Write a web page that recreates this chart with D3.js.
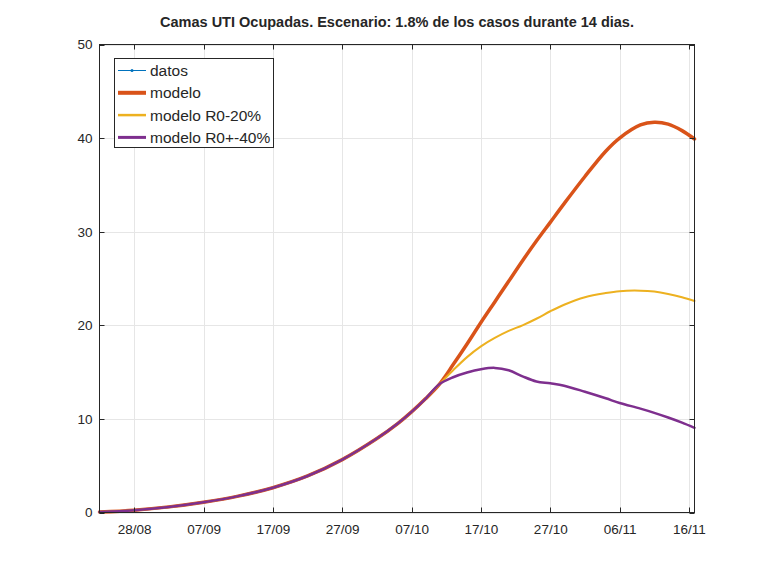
<!DOCTYPE html>
<html>
<head>
<meta charset="utf-8">
<script src="https://cdn.jsdelivr.net/npm/d3@7"></script>
<style>
  html, body { margin: 0; padding: 0; background: #fff; }
  svg { display: block; }
  text { font-family: "Liberation Sans", Arial, Helvetica, sans-serif; fill: #262626; }
</style>
</head>
<body>
<svg id="chart" width="768" height="576"></svg>
<script>
// ---------------- DATA ----------------
const fechaInicio = "2020-08-23";
// days since start date
const dias = [0, 5, 10, 15, 20, 25, 30, 35, 40, 43, 45, 47, 49, 51, 53, 55, 57, 59, 61, 63, 65, 67, 70, 73, 75, 78, 80, 82, 84, 85.8];
const modelo = [0.05, 0.25, 0.6, 1.1, 1.75, 2.65, 3.9, 5.65, 7.9, 9.5, 10.75, 12.15, 13.7,
  15.8, 18.0, 20.3, 22.5, 24.7, 26.9, 29.0, 31.0, 33.0, 35.9, 38.6, 40.0, 41.4, 41.7, 41.5, 40.8, 39.9];
const modeloR0m20 = [0.05, 0.25, 0.6, 1.1, 1.75, 2.65, 3.9, 5.65, 7.9, 9.5, 10.75, 12.15, 13.7,
  15.2, 16.6, 17.75, 18.65, 19.4, 20.0, 20.7, 21.5, 22.2, 23.0, 23.45, 23.65, 23.7, 23.6, 23.35, 23.0, 22.6];
const modeloR0m40 = [0.05, 0.25, 0.6, 1.1, 1.75, 2.65, 3.9, 5.65, 7.9, 9.5, 10.75, 12.15, 13.7,
  14.45, 14.95, 15.3, 15.45, 15.2, 14.55, 14.0, 13.8, 13.55, 12.9, 12.2, 11.7, 11.1, 10.65, 10.15, 9.6, 9.05];
const xTickLabels = ["28/08", "07/09", "17/09", "27/09", "07/10", "17/10", "27/10", "06/11", "16/11"];
const yTicks = [0, 10, 20, 30, 40, 50];
const seriesNames = ["datos", "modelo", "modelo R0-20%", "modelo R0+-40%"];
const seriesColors = ["#0072BD", "#D95319", "#EDB120", "#7E2F8E"];
const seriesWidths = [1, 3.5, 2, 2.5];
const title = "Camas UTI Ocupadas. Escenario: 1.8% de los casos durante 14 dias.";

// ---------------- CHART ----------------
const svg = d3.select("#chart");
const m = { left: 99.5, right: 694.5, top: 44.5, bottom: 512.5 };
const parseDate = d3.utcParse("%Y-%m-%d");
const t0 = parseDate(fechaInicio);
const dayToDate = d => new Date(t0.getTime() + d * 86400000);

const x = d3.scaleUtc()
  .domain([dayToDate(dias[0]), dayToDate(dias[dias.length - 1])])
  .range([m.left, m.right]);
const y = d3.scaleLinear().domain([0, 50]).range([m.bottom, m.top]);

const tickDates = xTickLabels.map(s => {
  const [dd, mm] = s.split("/").map(Number);
  return new Date(Date.UTC(2020, mm - 1, dd));
});

// grid
const grid = svg.append("g").attr("stroke", "#e6e6e6").attr("stroke-width", 1);
tickDates.forEach(d => {
  const px = Math.round(x(d)) + 0.5;
  grid.append("line").attr("x1", px).attr("x2", px).attr("y1", m.top).attr("y2", m.bottom);
});
yTicks.forEach(v => {
  const py = Math.round(y(v)) + 0.5;
  grid.append("line").attr("x1", m.left).attr("x2", m.right).attr("y1", py).attr("y2", py);
});

// axes (bottom / left with labels)
const xAxis = d3.axisBottom(x).tickValues(tickDates).tickSize(0).tickPadding(12)
  .tickFormat((d, i) => xTickLabels[i]);
const gx = svg.append("g").attr("transform", `translate(0,${m.bottom})`).call(xAxis);
gx.select(".domain").remove();
gx.selectAll("text").attr("font-size", "13.5px").style("font-family", "'Liberation Sans', Arial, sans-serif").attr("fill", "#262626");

const yAxis = d3.axisLeft(y).tickValues(yTicks).tickSize(0).tickPadding(7);
const gy = svg.append("g").attr("transform", `translate(${m.left},0)`).call(yAxis);
gy.select(".domain").remove();
gy.selectAll("text").attr("font-size", "13.5px").style("font-family", "'Liberation Sans', Arial, sans-serif").attr("fill", "#262626");

// lines
const lineGen = vals => d3.line()
  .x((d, i) => x(dayToDate(dias[i])))
  .y(d => y(d))
  .curve(d3.curveCatmullRom.alpha(0.5))(vals);

const plotSeries = [null, modelo, modeloR0m20, modeloR0m40];
plotSeries.forEach((vals, k) => {
  if (!vals) return;
  svg.append("path")
    .attr("d", lineGen(vals))
    .attr("fill", "none")
    .attr("stroke", seriesColors[k])
    .attr("stroke-width", seriesWidths[k])
    .attr("stroke-linejoin", "round")
    .attr("stroke-linecap", "round");
});

// box + inner ticks
const axc = "#262626";
const box = svg.append("g").attr("stroke", axc).attr("stroke-width", 1).attr("fill", "none");
box.append("rect").attr("x", m.left).attr("y", m.top).attr("width", m.right - m.left).attr("height", m.bottom - m.top);
const tl = 5;
tickDates.forEach(d => {
  const px = Math.round(x(d)) + 0.5;
  box.append("line").attr("x1", px).attr("x2", px).attr("y1", m.bottom).attr("y2", m.bottom - tl);
  box.append("line").attr("x1", px).attr("x2", px).attr("y1", m.top).attr("y2", m.top + tl);
});
yTicks.forEach(v => {
  const py = Math.round(y(v)) + 0.5;
  box.append("line").attr("x1", m.left).attr("x2", m.left + tl).attr("y1", py).attr("y2", py);
  box.append("line").attr("x1", m.right).attr("x2", m.right - tl).attr("y1", py).attr("y2", py);
});

// title
svg.append("text")
  .attr("x", (m.left + m.right) / 2)
  .attr("y", 27)
  .attr("text-anchor", "middle")
  .attr("font-size", "14.5px")
  .attr("font-weight", "bold")
  .attr("fill", "#000")
  .text(title);

// legend
const lg = svg.append("g");
lg.append("rect").attr("x", 114.5).attr("y", 58.5).attr("width", 159).attr("height", 89)
  .attr("fill", "#fff").attr("stroke", axc).attr("stroke-width", 1);
seriesNames.forEach((name, i) => {
  const cy = 70.5 + i * 22.3;
  lg.append("line").attr("x1", 118).attr("x2", 146).attr("y1", cy).attr("y2", cy)
    .attr("stroke", seriesColors[i]).attr("stroke-width", i === 0 ? 1 : seriesWidths[i] + 0.5);
  if (i === 0) {
    lg.append("circle").attr("cx", 132).attr("cy", cy).attr("r", 1.5).attr("fill", seriesColors[0]);
  }
  lg.append("text").attr("x", 150).attr("y", cy).attr("dy", "0.35em")
    .attr("font-size", "15.5px").attr("fill", "#000").text(name);
});
</script>
</body>
</html>
